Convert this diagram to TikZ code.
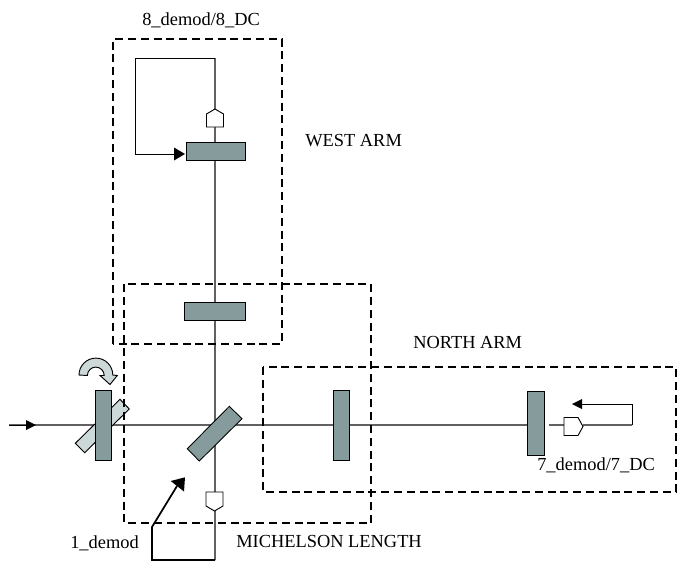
\documentclass[tikz,border=0pt]{standalone}
\usepackage{fontspec}
\setmainfont{Liberation Serif}
\definecolor{mirror}{RGB}{134,155,155}
\definecolor{plate}{RGB}{205,217,217}
\tikzset{
  x=0.75pt,y=-0.75pt,
  beam/.style={draw=black!62,line width=0.9pt},
  wire/.style={draw=black,line width=0.7pt},
  optic/.style={draw=black,fill=mirror,line width=0.65pt},
  det/.style={draw=black,fill=white,line width=0.7pt},
  region/.style={draw=black,line width=1.3pt,dash pattern=on 6pt off 3.6pt},
  lab/.style={font=\fontsize{13.8pt}{15pt}\selectfont,inner sep=0pt,anchor=base west}
}
\begin{document}
\begin{tikzpicture}
\useasboundingbox (0,0) rectangle (677,561);
% coordinates
\coordinate (inL) at (9,425);
\coordinate (vTop) at (215,58);
\coordinate (vBot) at (215,560);
\coordinate (loopA) at (135,58);
\coordinate (loopB) at (135,154);
\coordinate (fbA) at (152,560);
\coordinate (fbB) at (152,527);
\coordinate (nA) at (632,425);
\coordinate (nB) at (632,404);
% beams
\draw[beam] (inL) -- (527,425);
\draw[beam] (549,425) -- (564,425);
\draw[beam] (583,425) -- (nA);
\draw[beam] (vTop) -- (vBot);
% tilted plate
\path[det,fill=plate] (129.3,409) -- (120,399.3) -- (75.3,443.3) -- (84.7,452.7) -- cycle;
% optics
\path[optic] (95,390) rectangle (111,460);
\path[optic] (229.3,406.3) -- (242,418.7) -- (199.3,461) -- (187.3,448.7) -- cycle;
\path[optic] (333,390) rectangle (349,460);
\path[optic] (527,391) rectangle (544,455);
\path[optic] (184,302) rectangle (245,320);
\path[optic] (186,142.5) rectangle (245,160.5);
% detectors
\path[det] (206.5,127) -- (206.5,114) -- (215,109) -- (223.5,114) -- (223.5,127) -- cycle;
\path[det] (206,492) -- (223,492) -- (223,506) -- (214.5,511) -- (206,506) -- cycle;
\path[det] (564,417.5) -- (578,417.5) -- (583,426.5) -- (578,435.5) -- (564,435.5) -- cycle;
% loops
\draw[wire] (vTop) -- (loopA) -- (loopB) -- (175,154);
\fill (185,154) -- (174,147.5) -- (174,160.5) -- cycle;
\draw[wire] (nA) -- (nB) -- (580,404);
\fill (572,404) -- (582,399) -- (582,409) -- cycle;
\draw[wire] (inL) -- (28,425);
\fill (36,425) -- (26,420) -- (26,430) -- cycle;
\draw[draw=black,line width=1.3pt] (vBot) -- (fbA) -- (fbB) -- (177,486);
\fill (185,477.3) -- (170.7,481) -- (184,491.5) -- cycle;
% curved arrow
\path[det,fill=plate] (79,375) arc[start angle=180,end angle=360,radius=16.9]
  -- (117.3,375.5) -- (110,384.5) -- (100,375.5) -- (104.2,375.5)
  arc[start angle=360,end angle=180,radius=8.4] -- cycle;
% regions
\draw[region] (113,344) -- (113,39) -- (282,39) -- (282,344) -- cycle;
\draw[region] (124,284) rectangle (371,523);
\draw[region] (263,367) rectangle (676,492);
% labels
\node[lab] (t1) at (142,25) {8\_demod/8\_DC};
\node[lab] (t2) at (305,146) {WEST ARM};
\node[lab] (t3) at (413,348) {NORTH ARM};
\node[lab] (t4) at (537,470) {7\_demod/7\_DC};
\node[lab] (t5) at (236,547) {MICHELSON LENGTH};
\node[lab] (t6) at (70,548) {1\_demod};
\end{tikzpicture}
\end{document}
